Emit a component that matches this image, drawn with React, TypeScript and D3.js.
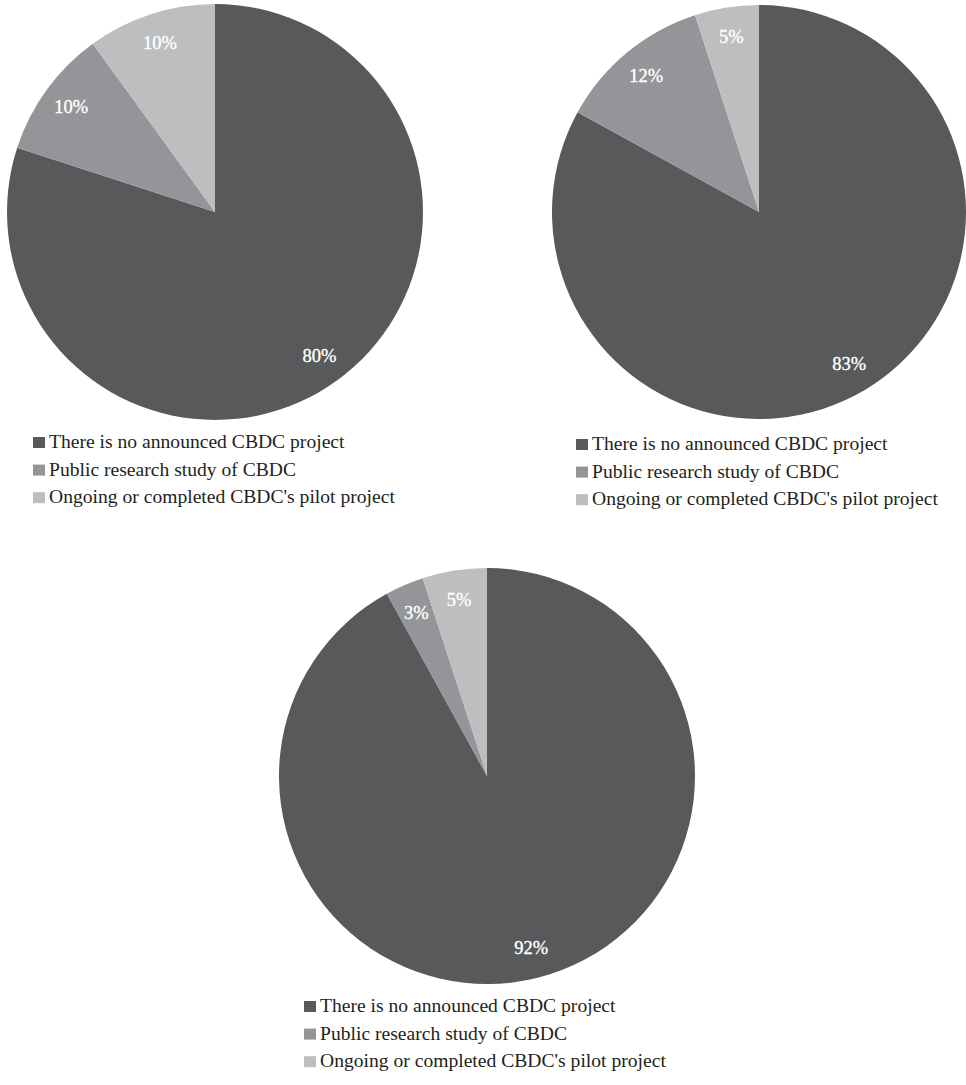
import React from "react";
import * as d3 from "d3";

const categories = [
  "There is no announced CBDC project",
  "Public research study of CBDC",
  "Ongoing or completed CBDC's pilot project",
];
const pieAValues = [80, 10, 10];
const pieBValues = [83, 12, 5];
const pieCValues = [92, 3, 5];
const colors = ["#58595b", "#939598", "#bcbec0"];

const layouts = [
  { values: pieAValues, cx: 215, cy: 212, r: 208, lx: 33, ly: 448 },
  { values: pieBValues, cx: 759, cy: 212, r: 207, lx: 576, ly: 450 },
  { values: pieCValues, cx: 487, cy: 776, r: 208, lx: 304, ly: 1012 },
];

const FONT = "'Liberation Serif', 'Times New Roman', serif";

function Pie({ values, cx, cy, r, lx, ly }: any) {
  const pie = d3.pie<number>().sort(null).startAngle(0).endAngle(2 * Math.PI);
  const arcs = pie(values);
  const arc = d3.arc<d3.PieArcDatum<number>>().innerRadius(0).outerRadius(r);
  const labelArc = d3
    .arc<d3.PieArcDatum<number>>()
    .innerRadius(r * 0.855)
    .outerRadius(r * 0.855);
  const rowStep = 27.6;
  return (
    <g>
      <g transform={`translate(${cx},${cy})`}>
        {arcs.map((a, i) => (
          <path key={i} d={arc(a) || ""} fill={colors[i]} />
        ))}
        {arcs.map((a, i) => {
          const [x, y] = labelArc.centroid(a);
          return (
            <text
              key={"l" + i}
              x={x}
              y={y}
              textAnchor="middle"
              dominantBaseline="central"
              fill="#ffffff"
              fontFamily={FONT}
              fontWeight="normal"
              fontSize={18.5}
              stroke="#ffffff"
              strokeWidth={0.35}
            >
              {a.data + "%"}
            </text>
          );
        })}
      </g>
      <g>
        {categories.map((c, i) => (
          <g key={c}>
            <rect
              x={lx}
              y={ly + i * rowStep - 11}
              width={12}
              height={11}
              fill={colors[i]}
            />
            <text
              x={lx + 16}
              y={ly + i * rowStep}
              fill="#231f20"
              fontFamily={FONT}
              fontSize={19.6}
            >
              {c}
            </text>
          </g>
        ))}
      </g>
    </g>
  );
}

export default function App() {
  return (
    <svg
      width={966}
      height={1085}
      style={{ position: "absolute", left: 0, top: 0, background: "#ffffff" }}
    >
      <rect x={0} y={0} width={966} height={1085} fill="#ffffff" />
      {layouts.map((l, i) => (
        <Pie key={i} {...l} />
      ))}
    </svg>
  );
}
